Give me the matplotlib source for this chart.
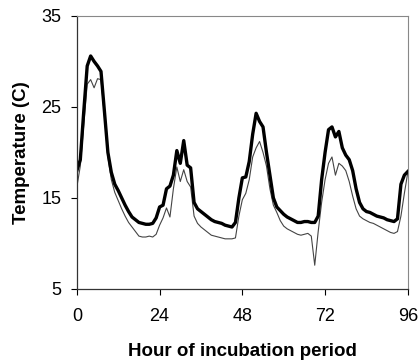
import matplotlib
matplotlib.use("Agg")
import matplotlib.pyplot as plt

# hour of incubation period
hours = list(range(0, 97))

# upper (thick) temperature trace
temp_upper = [
    18.0, 19.2, 24.5, 29.5, 30.6, 30.0, 29.5, 28.9, 24.5, 20.0,
    17.8, 16.5, 15.8, 15.0, 14.2, 13.5, 12.9, 12.6, 12.3, 12.2,
    12.1, 12.1, 12.2, 12.8, 14.0, 14.2, 16.0, 16.3, 17.5, 20.2,
    18.8, 21.3, 18.6, 18.3, 14.5, 13.8, 13.5, 13.2, 12.9, 12.6,
    12.4, 12.3, 12.2, 12.0, 11.9, 11.8, 12.3, 15.0, 17.2, 17.3,
    19.0, 22.0, 24.3, 23.4, 22.8, 20.0, 17.5, 15.0, 14.0, 13.6,
    13.2, 12.9, 12.7, 12.5, 12.3, 12.3, 12.4, 12.4, 12.3, 12.3,
    13.0, 17.0, 20.0, 22.5, 22.8, 21.7, 22.3, 20.5, 19.7, 19.2,
    18.0, 16.0, 14.5, 13.8, 13.5, 13.4, 13.2, 13.0, 12.9, 12.8,
    12.6, 12.5, 12.4, 12.7, 16.5, 17.5, 17.9,
]

# lower (thin) temperature trace
temp_lower = [
    16.2, 18.5, 23.0, 27.5, 28.0, 27.1, 28.1, 28.0, 24.0, 19.5,
    17.0, 15.6, 14.7, 13.8, 13.0, 12.3, 11.8, 11.3, 10.8, 10.7,
    10.7, 10.8, 10.7, 11.0, 12.0, 12.8, 13.9, 12.9, 16.0, 18.4,
    16.8, 18.1, 16.8, 16.2, 13.0, 12.2, 11.8, 11.5, 11.2, 10.9,
    10.8, 10.7, 10.6, 10.5, 10.5, 10.5, 10.6, 13.0, 14.8, 15.5,
    17.0, 19.5, 20.5, 21.2, 20.0, 18.5, 16.0, 14.2, 13.4, 12.5,
    11.9, 11.6, 11.4, 11.2, 11.0, 10.9, 11.0, 11.1, 10.8, 7.6,
    11.3, 14.5, 17.0, 18.8, 19.5, 17.5, 18.8, 18.5, 18.0, 16.8,
    15.2, 13.8, 13.0, 12.7, 12.5, 12.3, 12.2, 12.0, 11.8, 11.6,
    11.4, 11.2, 11.1, 11.3, 13.0, 15.5, 17.8,
]

x_ticks = [0, 24, 48, 72, 96]
y_ticks = [5, 15, 25, 35]

plt.rcParams['font.family'] = ['Liberation Sans', 'DejaVu Sans']

fig = plt.figure(figsize=(4.2, 3.62), dpi=100)
ax = fig.add_axes([0.183, 0.202, 0.788, 0.754])

ax.plot(hours, temp_lower, color="#444444", linewidth=0.8)
ax.plot(hours, temp_upper, color="black", linewidth=2.4)

ax.set_xlim(0, 96)
ax.set_ylim(5, 35)
ax.set_xticks(x_ticks)
ax.set_yticks(y_ticks)
ax.tick_params(direction="out", length=4, width=0.8, labelsize=13)
ax.tick_params(axis="x", pad=10)
ax.tick_params(axis="y", pad=7)

for side in ["top", "right"]:
    ax.spines[side].set_color("#888888")
    ax.spines[side].set_linewidth(0.8)
for side in ["left", "bottom"]:
    ax.spines[side].set_color("#333333")
    ax.spines[side].set_linewidth(0.9)

ax.set_xlabel("Hour of incubation period", fontsize=13.5, fontweight="bold", labelpad=13)
ax.set_ylabel("Temperature (C)", fontsize=13.5, fontweight="bold", labelpad=8)

fig.savefig("out.png", dpi=100)
